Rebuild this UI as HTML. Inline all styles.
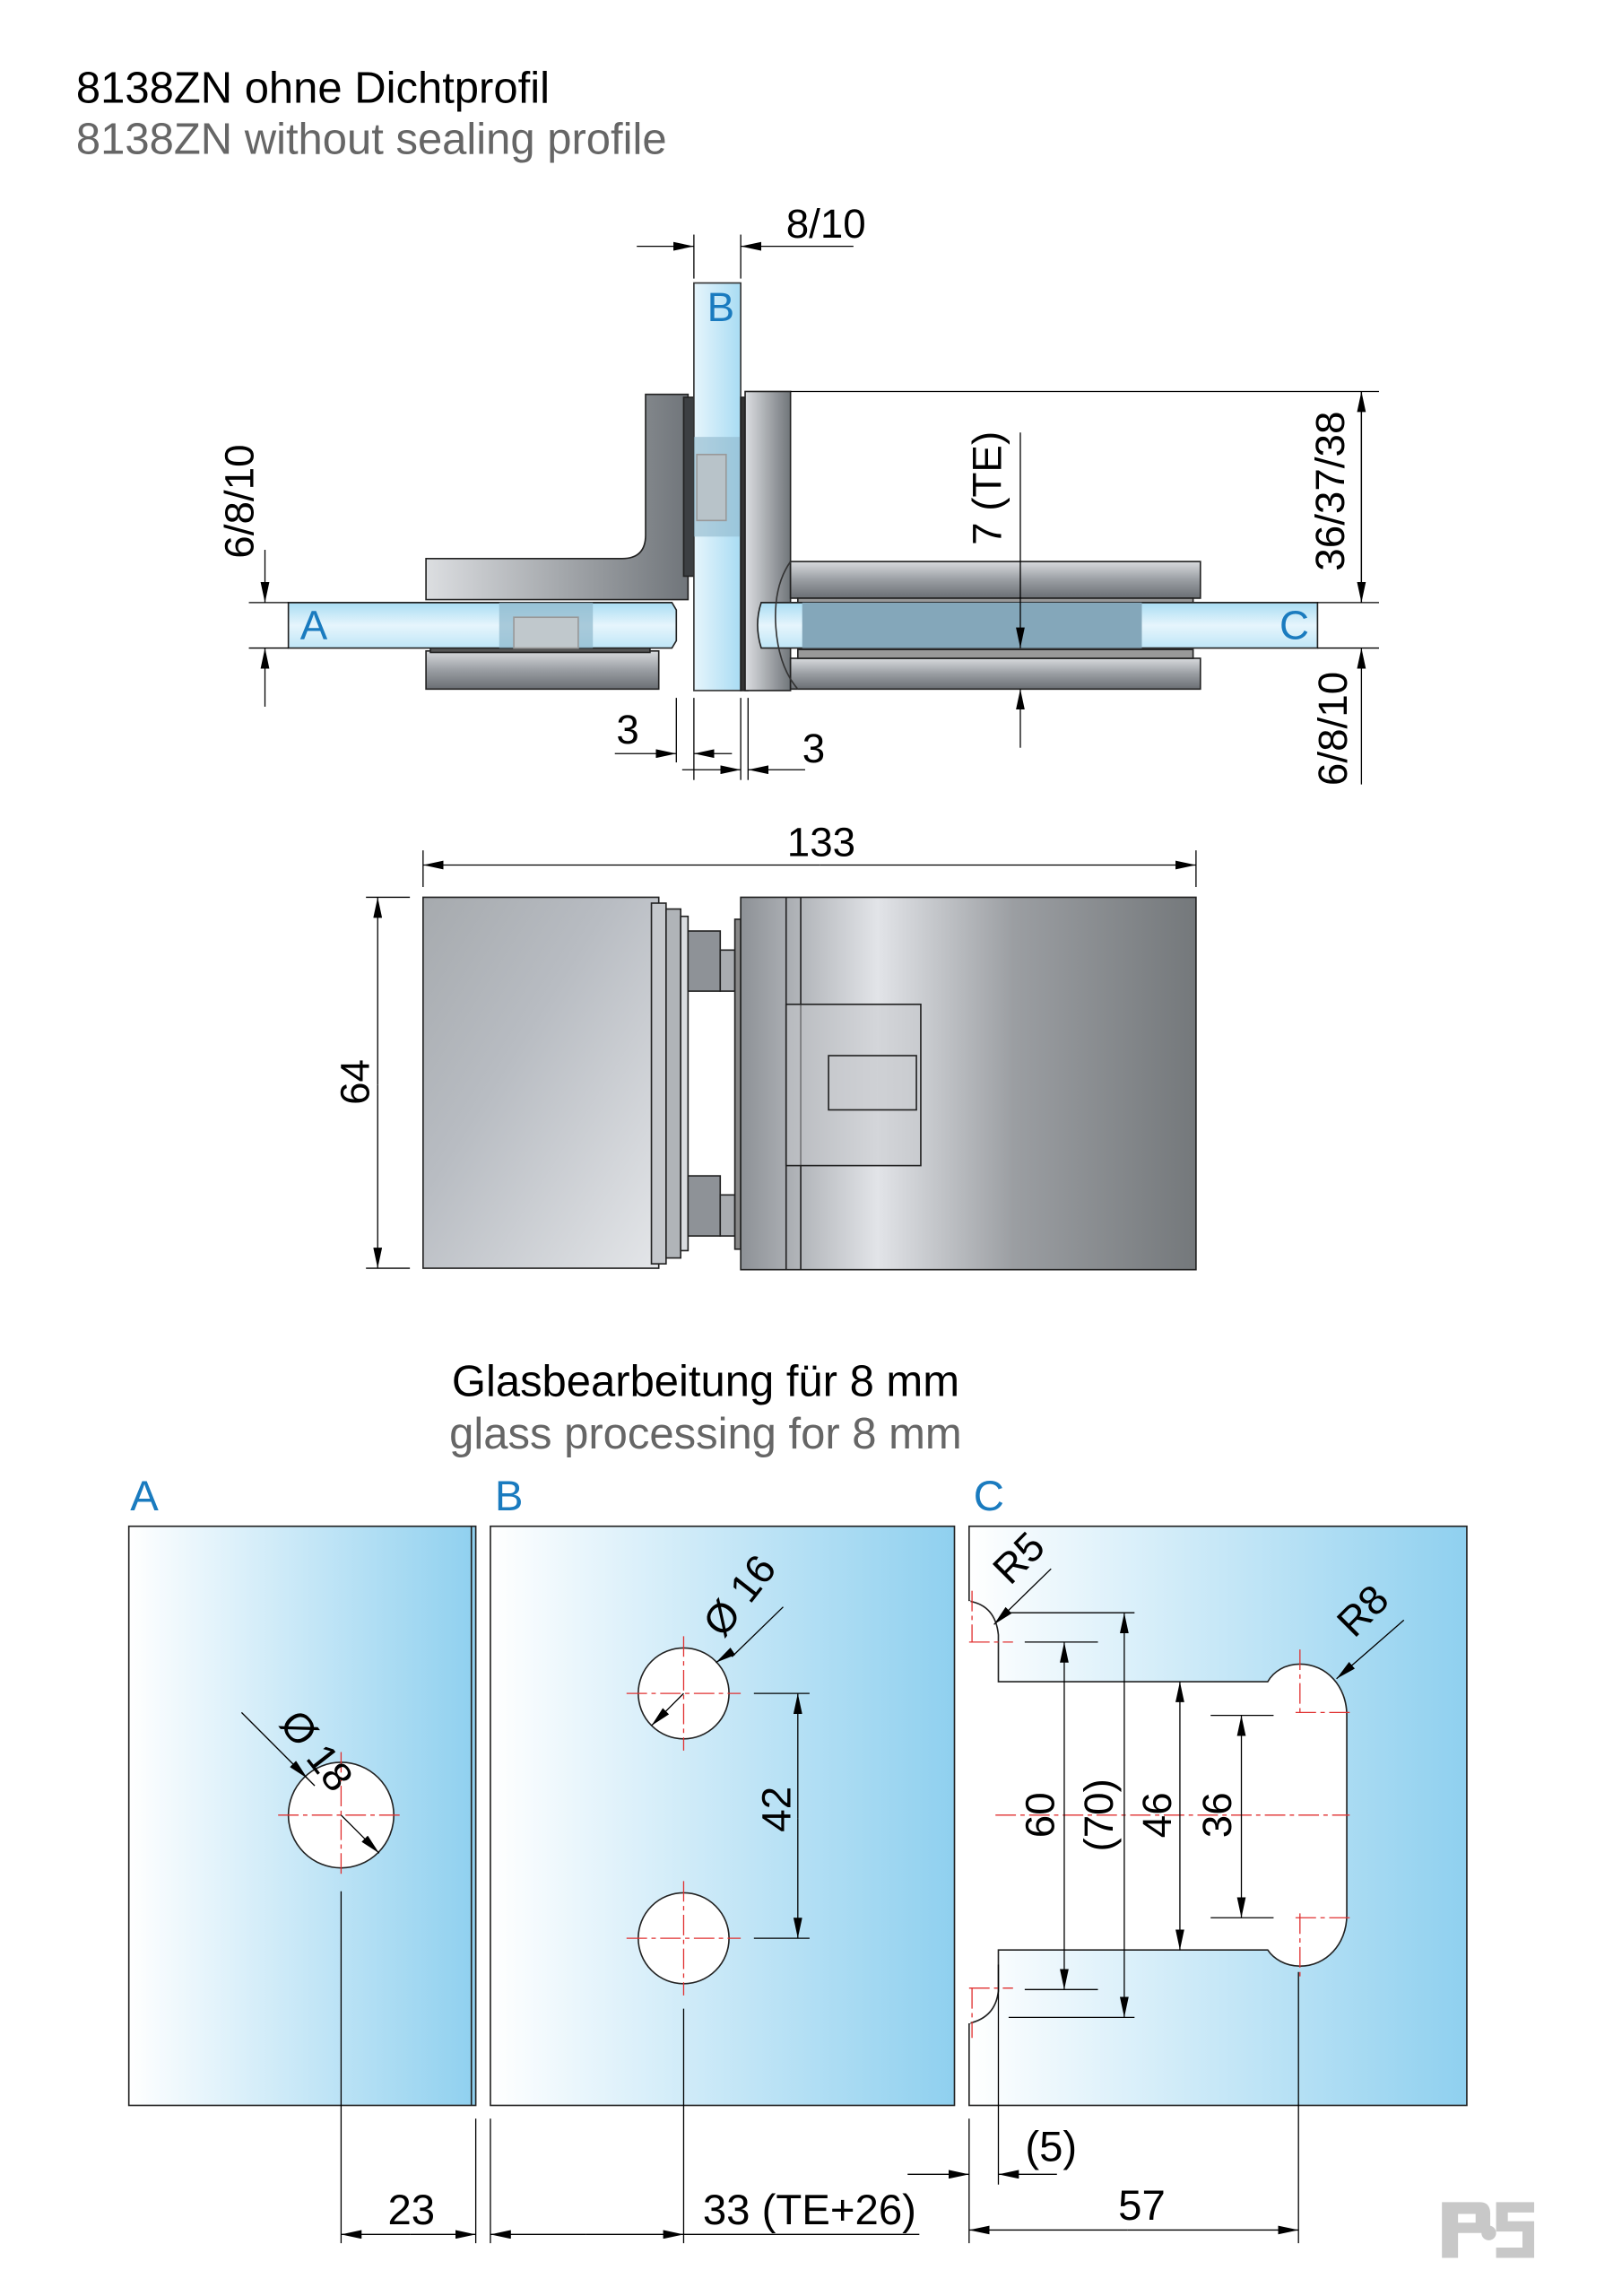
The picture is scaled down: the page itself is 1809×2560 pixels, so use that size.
<!DOCTYPE html>
<html><head><meta charset="utf-8"><style>
html,body{margin:0;padding:0;background:#fff}
svg{display:block}
text{font-family:"Liberation Sans",Arial,sans-serif}
</style></head><body>
<svg width="1809" height="2560" viewBox="0 0 1108 1566" preserveAspectRatio="none" xmlns="http://www.w3.org/2000/svg">
<defs>
<marker id="ar" viewBox="0 0 14 6" refX="14" refY="3" markerWidth="14" markerHeight="6" markerUnits="userSpaceOnUse" orient="auto"><path d="M0,0 L14,3 L0,6 Z" fill="#000"/></marker>
<linearGradient id="glass" x1="0" y1="0" x2="1" y2="0"><stop offset="0" stop-color="#ffffff"/><stop offset="1" stop-color="#8fd0ef"/></linearGradient>
<linearGradient id="gv" x1="0" y1="0" x2="0" y2="1"><stop offset="0" stop-color="#a9dcf3"/><stop offset="0.5" stop-color="#e6f5fc"/><stop offset="1" stop-color="#bfe6f7"/></linearGradient>
<linearGradient id="gh" x1="0" y1="0" x2="1" y2="0"><stop offset="0" stop-color="#e6f5fc"/><stop offset="1" stop-color="#a9dcf3"/></linearGradient>
<linearGradient id="metV" x1="0" y1="0" x2="0" y2="1"><stop offset="0" stop-color="#d8dadd"/><stop offset="0.5" stop-color="#9a9ea3"/><stop offset="1" stop-color="#6a6e73"/></linearGradient>
<linearGradient id="metH" x1="0" y1="0" x2="1" y2="0"><stop offset="0" stop-color="#dcdee1"/><stop offset="1" stop-color="#70757a"/></linearGradient>
<linearGradient id="metL" x1="0" y1="0" x2="1" y2="1"><stop offset="0" stop-color="#a6aaae"/><stop offset="0.4" stop-color="#b8bcc2"/><stop offset="1" stop-color="#e4e6e9"/></linearGradient>
<linearGradient id="metR" x1="0" y1="0" x2="1" y2="0"><stop offset="0" stop-color="#8d9196"/><stop offset="0.3" stop-color="#e2e4e8"/><stop offset="0.6" stop-color="#9b9ea2"/><stop offset="1" stop-color="#74787b"/></linearGradient>
</defs>

<text x="52" y="70" font-size="30" fill="#000">8138ZN ohne Dichtprofil</text>
<text x="52" y="105" font-size="30" fill="#666">8138ZN without sealing profile</text>

<g stroke="#222" stroke-width="1">
<path d="M441,269 L470,269 L470,409 L291,409 L291,381 L425,381 Q441,381 441,365 Z" fill="url(#metH)"/>
<rect x="467" y="271" width="7" height="122" fill="#3c3f42"/>
<rect x="291" y="444" width="159" height="26" fill="url(#metV)"/>
<rect x="294" y="441" width="150" height="4" fill="#555"/>
<rect x="474" y="193" width="32" height="278" fill="url(#gh)" stroke="#333"/>
<rect x="474" y="298" width="32" height="68" fill="#8fb8cc" stroke="none" opacity="0.6"/>
<rect x="476" y="310" width="20" height="45" fill="#b8c3c9" stroke="#999"/>
<path d="M197,411 L459,411 L462,416 L462,437 L459,442 L197,442 Z" fill="url(#gv)"/>
<rect x="341" y="411" width="64" height="31" fill="#8fb8cc" stroke="none" opacity="0.7"/>
<rect x="351" y="421" width="44" height="21" fill="#c0c8cc" stroke="#999"/>
<rect x="506" y="271" width="5" height="200" fill="#333"/>
<rect x="509" y="267" width="31" height="204" fill="url(#metH)"/>
<rect x="540" y="383" width="280" height="25" fill="url(#metV)"/>
<rect x="540" y="449" width="280" height="21" fill="url(#metV)"/>
<rect x="545" y="408" width="270" height="4" fill="#999"/>
<rect x="545" y="443" width="270" height="6" fill="#999"/>
<path d="M520,411 L900,411 L900,442 L520,442 Q515,426 520,411 Z" fill="url(#gv)"/>
<rect x="548" y="411" width="232" height="31" fill="#84a7ba" stroke="none"/>
<path d="M540,383 Q528,400 530,428 Q532,455 545,470" fill="none" stroke="#333"/>
</g>
<text x="483" y="219" font-size="28" fill="#1a7bbf">B</text>
<text x="205" y="436" font-size="28" fill="#1a7bbf">A</text>
<text x="874" y="436" font-size="28" fill="#1a7bbf">C</text>

<g stroke="#000" stroke-width="0.8" fill="none">
<line x1="474" y1="160" x2="474" y2="190"/><line x1="506" y1="160" x2="506" y2="190"/>
<line x1="435" y1="168" x2="474" y2="168" marker-end="url(#ar)"/>
<line x1="583" y1="168" x2="506" y2="168" marker-end="url(#ar)"/>
<line x1="170" y1="411" x2="197" y2="411"/><line x1="170" y1="442" x2="197" y2="442"/>
<line x1="181" y1="375" x2="181" y2="411" marker-end="url(#ar)"/>
<line x1="181" y1="482" x2="181" y2="442" marker-end="url(#ar)"/>
<line x1="540" y1="267" x2="942" y2="267"/>
<line x1="900" y1="411" x2="942" y2="411"/><line x1="900" y1="442" x2="942" y2="442"/>
<line x1="930" y1="411" x2="930" y2="267" marker-end="url(#ar)"/>
<line x1="930" y1="267" x2="930" y2="411" marker-end="url(#ar)"/>
<line x1="930" y1="535" x2="930" y2="442" marker-end="url(#ar)"/>
<line x1="697" y1="295" x2="697" y2="442" marker-end="url(#ar)"/>
<line x1="697" y1="510" x2="697" y2="470" marker-end="url(#ar)"/>
<line x1="462" y1="476" x2="462" y2="520"/><line x1="474" y1="476" x2="474" y2="532"/>
<line x1="506" y1="476" x2="506" y2="532"/><line x1="511" y1="476" x2="511" y2="532"/>
<line x1="420" y1="514" x2="462" y2="514" marker-end="url(#ar)"/>
<line x1="500" y1="514" x2="474" y2="514" marker-end="url(#ar)"/>
<line x1="466" y1="525" x2="506" y2="525" marker-end="url(#ar)"/>
<line x1="550" y1="525" x2="511" y2="525" marker-end="url(#ar)"/>
</g>
<text x="537" y="162" font-size="28">8/10</text>
<text transform="translate(173,342) rotate(-90)" font-size="28" text-anchor="middle">6/8/10</text>
<text transform="translate(918,335) rotate(-90)" font-size="28" text-anchor="middle">36/37/38</text>
<text transform="translate(920,497) rotate(-90)" font-size="28" text-anchor="middle">6/8/10</text>
<text transform="translate(684,333) rotate(-90)" font-size="28" text-anchor="middle">7 (TE)</text>
<text x="421" y="507" font-size="28">3</text>
<text x="548" y="520" font-size="28">3</text>

<g stroke="#222" stroke-width="1">
<rect x="289" y="612" width="161" height="253" fill="url(#metL)"/>
<rect x="445" y="616" width="10" height="246" fill="#c5c8cc"/>
<rect x="455" y="620" width="10" height="238" fill="#b0b4b8"/>
<rect x="465" y="625" width="5" height="228" fill="#d9dcdf"/>
<rect x="470" y="635" width="22" height="41" fill="#8e9297"/>
<rect x="492" y="648" width="10" height="28" fill="#a9acb0"/>
<rect x="470" y="802" width="22" height="41" fill="#8e9297"/>
<rect x="492" y="815" width="10" height="28" fill="#a9acb0"/>
<rect x="502" y="627" width="4" height="225" fill="#888"/>
<rect x="506" y="612" width="311" height="254" fill="url(#metR)"/>
<line x1="537" y1="612" x2="537" y2="866"/><line x1="547" y1="612" x2="547" y2="866"/>
<rect x="537" y="685" width="92" height="110" fill="#c5c8cc" fill-opacity="0.5"/>
<rect x="566" y="720" width="60" height="37" fill="#c9ccd0" fill-opacity="0.5"/>
</g>
<g stroke="#000" stroke-width="0.8" fill="none">
<line x1="289" y1="580" x2="289" y2="605"/><line x1="817" y1="580" x2="817" y2="605"/>
<line x1="560" y1="590" x2="289" y2="590" marker-end="url(#ar)"/>
<line x1="560" y1="590" x2="817" y2="590" marker-end="url(#ar)"/>
<line x1="250" y1="612" x2="280" y2="612"/><line x1="250" y1="865" x2="280" y2="865"/>
<line x1="258" y1="740" x2="258" y2="612" marker-end="url(#ar)"/>
<line x1="258" y1="740" x2="258" y2="865" marker-end="url(#ar)"/>
</g>
<text x="561" y="584" font-size="28" text-anchor="middle">133</text>
<text transform="translate(252,738) rotate(-90)" font-size="28" text-anchor="middle">64</text>

<text x="482" y="952" font-size="30" text-anchor="middle">Glasbearbeitung für 8 mm</text>
<text x="482" y="988" font-size="30" text-anchor="middle" fill="#666">glass processing for 8 mm</text>
<text x="89" y="1030" font-size="29" fill="#1a7bbf">A</text>
<text x="338" y="1030" font-size="29" fill="#1a7bbf">B</text>
<text x="665" y="1030" font-size="29" fill="#1a7bbf">C</text>

<g stroke="#222" stroke-width="1">
<rect x="88" y="1041" width="237" height="395" fill="url(#glass)"/>
<line x1="322" y1="1041" x2="322" y2="1436"/>
<rect x="335" y="1041" width="317" height="395" fill="url(#glass)"/>
<rect x="662" y="1041" width="340" height="395" fill="url(#glass)"/>
<path d="M662,1092 Q680,1095 682,1115 L682,1147 L866,1147 C870,1140 878,1135 888,1135 C906,1135 920,1150 920,1170 L920,1306 C920,1326 906,1341 888,1341 C878,1341 870,1336 866,1330 L682,1330 L682,1358 Q680,1376 662,1380 Z" fill="#fff"/>
<line x1="662" y1="1092" x2="662" y2="1380" stroke="#fff" stroke-width="2"/>
<circle cx="233" cy="1238" r="36" fill="#fff"/>
<circle cx="467" cy="1155" r="31" fill="#fff"/>
<circle cx="467" cy="1322" r="31" fill="#fff"/>
</g>

<g stroke="#e03030" stroke-width="0.8" stroke-dasharray="14,3,3,3" fill="none">
<line x1="190" y1="1238" x2="276" y2="1238"/><line x1="233" y1="1195" x2="233" y2="1281"/>
<line x1="428" y1="1155" x2="506" y2="1155"/><line x1="467" y1="1116" x2="467" y2="1194"/>
<line x1="428" y1="1322" x2="506" y2="1322"/><line x1="467" y1="1283" x2="467" y2="1361"/>
<line x1="680" y1="1238" x2="922" y2="1238"/>
<line x1="888" y1="1125" x2="888" y2="1170"/><line x1="885" y1="1168" x2="925" y2="1168"/>
<line x1="888" y1="1305" x2="888" y2="1350"/><line x1="885" y1="1308" x2="925" y2="1308"/>
<line x1="662" y1="1120" x2="692" y2="1120"/><line x1="664" y1="1085" x2="664" y2="1120"/>
<line x1="662" y1="1356" x2="692" y2="1356"/><line x1="664" y1="1356" x2="664" y2="1390"/>
</g>

<g stroke="#000" stroke-width="0.8" fill="none">
<line x1="165" y1="1168" x2="215" y2="1218" />
<line x1="205" y1="1208" x2="210" y2="1213" marker-end="url(#ar)"/>
<line x1="233" y1="1238" x2="259" y2="1264" marker-end="url(#ar)"/>
<line x1="535" y1="1096" x2="500" y2="1130"/>
<line x1="495" y1="1130" x2="489" y2="1134" marker-end="url(#ar)"/>
<line x1="467" y1="1155" x2="445" y2="1177" marker-end="url(#ar)"/>
<line x1="515" y1="1155" x2="553" y2="1155"/><line x1="515" y1="1322" x2="553" y2="1322"/>
<line x1="545" y1="1240" x2="545" y2="1155" marker-end="url(#ar)"/>
<line x1="545" y1="1240" x2="545" y2="1322" marker-end="url(#ar)"/>
<line x1="718" y1="1070" x2="679" y2="1108" marker-end="url(#ar)"/>
<line x1="959" y1="1105" x2="913" y2="1145" marker-end="url(#ar)"/>
<line x1="689" y1="1100" x2="775" y2="1100"/><line x1="689" y1="1376" x2="775" y2="1376"/>
<line x1="700" y1="1120" x2="750" y2="1120"/><line x1="700" y1="1357" x2="750" y2="1357"/>
<line x1="827" y1="1170" x2="870" y2="1170"/><line x1="827" y1="1308" x2="870" y2="1308"/>
<line x1="727" y1="1238" x2="727" y2="1120" marker-end="url(#ar)"/>
<line x1="727" y1="1238" x2="727" y2="1357" marker-end="url(#ar)"/>
<line x1="768" y1="1238" x2="768" y2="1100" marker-end="url(#ar)"/>
<line x1="768" y1="1238" x2="768" y2="1376" marker-end="url(#ar)"/>
<line x1="806" y1="1238" x2="806" y2="1147" marker-end="url(#ar)"/>
<line x1="806" y1="1238" x2="806" y2="1330" marker-end="url(#ar)"/>
<line x1="848" y1="1238" x2="848" y2="1170" marker-end="url(#ar)"/>
<line x1="848" y1="1238" x2="848" y2="1308" marker-end="url(#ar)"/>
<line x1="233" y1="1290" x2="233" y2="1530"/>
<line x1="325" y1="1445" x2="325" y2="1530"/><line x1="335" y1="1445" x2="335" y2="1530"/>
<line x1="467" y1="1370" x2="467" y2="1530"/>
<line x1="662" y1="1445" x2="662" y2="1530"/>
<line x1="682" y1="1340" x2="682" y2="1490"/>
<line x1="887" y1="1345" x2="887" y2="1530"/>
<line x1="280" y1="1524" x2="233" y2="1524" marker-end="url(#ar)"/>
<line x1="280" y1="1524" x2="325" y2="1524" marker-end="url(#ar)"/>
<line x1="400" y1="1524" x2="335" y2="1524" marker-end="url(#ar)"/>
<line x1="400" y1="1524" x2="467" y2="1524" marker-end="url(#ar)"/>
<line x1="467" y1="1524" x2="628" y2="1524"/>
<line x1="770" y1="1521" x2="662" y2="1521" marker-end="url(#ar)"/>
<line x1="770" y1="1521" x2="887" y2="1521" marker-end="url(#ar)"/>
<line x1="620" y1="1483" x2="662" y2="1483" marker-end="url(#ar)"/>
<line x1="722" y1="1483" x2="682" y2="1483" marker-end="url(#ar)"/>
</g>
<text transform="translate(190,1176) rotate(52)" font-size="28">Ø 18</text>
<text transform="translate(494,1118) rotate(-52)" font-size="28">Ø 16</text>
<text transform="translate(540,1234) rotate(-90)" font-size="28" text-anchor="middle">42</text>
<text transform="translate(690,1082) rotate(-45)" font-size="28">R5</text>
<text transform="translate(925,1118) rotate(-45)" font-size="28">R8</text>
<text transform="translate(720,1238) rotate(-90)" font-size="28" text-anchor="middle">60</text>
<text transform="translate(760,1238) rotate(-90)" font-size="28" text-anchor="middle">(70)</text>
<text transform="translate(800,1238) rotate(-90)" font-size="28" text-anchor="middle">46</text>
<text transform="translate(841,1238) rotate(-90)" font-size="28" text-anchor="middle">36</text>
<text x="281" y="1517" font-size="29" text-anchor="middle">23</text>
<text x="553" y="1517" font-size="29" text-anchor="middle">33 (TE+26)</text>
<text x="780" y="1514" font-size="29" text-anchor="middle">57</text>
<text x="718" y="1474" font-size="29" text-anchor="middle">(5)</text>

<g fill="#c8c8c8">
<path d="M985,1502 L1011,1502 Q1018,1502 1018,1510 L1018,1518 Q1018,1523 1012,1523 L996,1523 L996,1540 L985,1540 Z M996,1510 L996,1516 L1008,1516 L1008,1510 Z"/>
<path d="M1022,1502 L1048,1502 L1048,1509 L1030,1509 L1030,1515 L1048,1515 L1048,1540 L1022,1540 L1022,1533 L1040,1533 L1040,1522 L1022,1522 Z"/>
<circle cx="1017" cy="1523" r="5"/>
</g>
</svg>
</body></html>
